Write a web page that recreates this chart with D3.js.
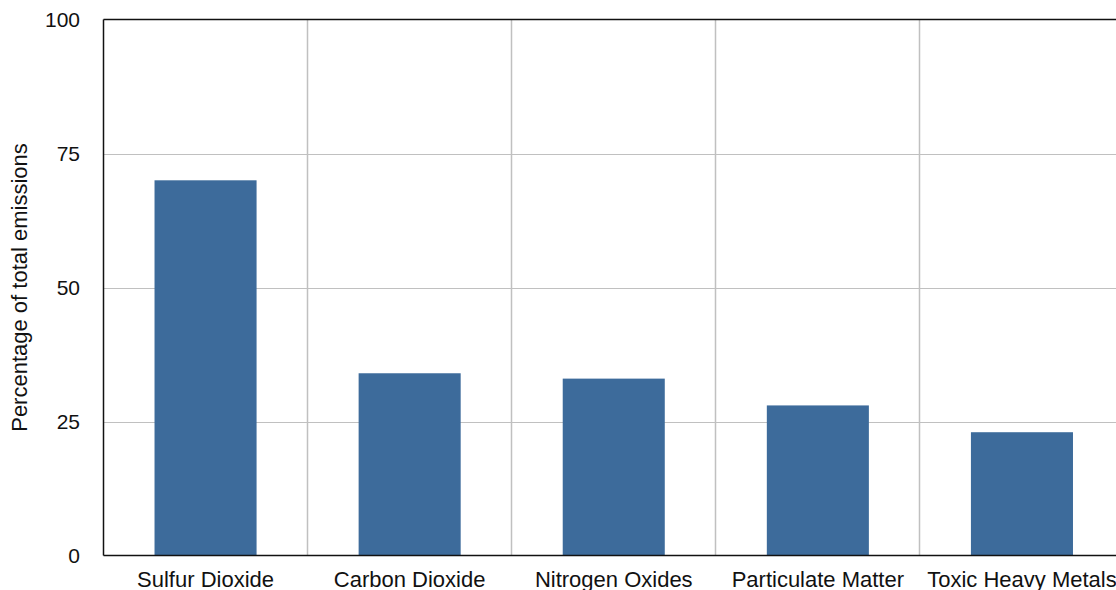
<!DOCTYPE html>
<html>
<head>
<meta charset="utf-8">
<script src="https://cdn.jsdelivr.net/npm/d3@7"></script>
<style>
  html, body { margin: 0; padding: 0; background: #fff; overflow: hidden; }
  svg { display: block; font-family: "Liberation Sans", Arial, Helvetica, sans-serif; }
</style>
</head>
<body>
<svg id="chart" width="1116" height="590"></svg>
<script>
// Share of total emissions by pollutant (%)
const categories = ["Sulfur Dioxide", "Carbon Dioxide", "Nitrogen Oxides", "Particulate Matter", "Toxic Heavy Metals"];
const values = [70, 34, 33, 28, 23];
const yTicks = [0, 25, 50, 75, 100];
const yTitle = "Percentage of total emissions";

const svg = d3.select("#chart");
const plotLeft = 103.5, plotRight = 1124, plotTop = 19.5, plotBottom = 555.5;

const x = d3.scaleBand()
  .domain(categories)
  .range([plotLeft, plotRight])
  .paddingInner(0.5)
  .paddingOuter(0.25);

const y = d3.scaleLinear()
  .domain([0, 100])
  .range([plotBottom, plotTop]);

const step = x.step();

// horizontal gridlines
svg.append("g")
  .selectAll("line")
  .data(yTicks.filter(t => t > 0 && t < 100))
  .join("line")
  .attr("x1", plotLeft).attr("x2", plotRight)
  .attr("y1", d => Math.round(y(d)) + 0.5)
  .attr("y2", d => Math.round(y(d)) + 0.5)
  .attr("stroke", "#c0c0c0").attr("stroke-width", 1.2);

// vertical gridlines at category boundaries
svg.append("g")
  .selectAll("line")
  .data(categories.slice(1))
  .join("line")
  .attr("x1", d => Math.round(x(d) - step * 0.25) - 0.5)
  .attr("x2", d => Math.round(x(d) - step * 0.25) - 0.5)
  .attr("y1", plotTop).attr("y2", plotBottom)
  .attr("stroke", "#c0c0c0").attr("stroke-width", 1.5);

// bars
svg.append("g")
  .selectAll("rect")
  .data(values)
  .join("rect")
  .attr("x", (d, i) => x(categories[i]))
  .attr("width", x.bandwidth())
  .attr("y", d => y(d))
  .attr("height", d => plotBottom - y(d))
  .attr("fill", "#3d6b9b");

// frame: left axis, top border, baseline
svg.append("line").attr("x1", plotLeft).attr("x2", plotLeft).attr("y1", plotTop).attr("y2", plotBottom)
  .attr("stroke", "#111").attr("stroke-width", 1.5);
svg.append("line").attr("x1", plotLeft).attr("x2", plotRight).attr("y1", plotTop).attr("y2", plotTop)
  .attr("stroke", "#111").attr("stroke-width", 1.5);
svg.append("line").attr("x1", plotLeft).attr("x2", plotRight).attr("y1", plotBottom).attr("y2", plotBottom)
  .attr("stroke", "#111").attr("stroke-width", 1.5);

// y tick labels
svg.append("g")
  .selectAll("text")
  .data(yTicks)
  .join("text")
  .attr("x", 80)
  .attr("y", d => y(d))
  .attr("dy", "0.35em")
  .attr("text-anchor", "end")
  .attr("font-size", 21)
  .attr("fill", "#111")
  .text(d => d);

// category labels
svg.append("g")
  .selectAll("text")
  .data(categories)
  .join("text")
  .attr("x", d => x(d) + x.bandwidth() / 2)
  .attr("y", 587)
  .attr("text-anchor", "middle")
  .attr("font-size", 22)
  .attr("fill", "#111")
  .text(d => d);

// y axis title
svg.append("text")
  .attr("transform", `translate(27, ${(plotTop + plotBottom) / 2}) rotate(-90)`)
  .attr("text-anchor", "middle")
  .attr("font-size", 22)
  .attr("fill", "#111")
  .text(yTitle);
</script>
</body>
</html>
